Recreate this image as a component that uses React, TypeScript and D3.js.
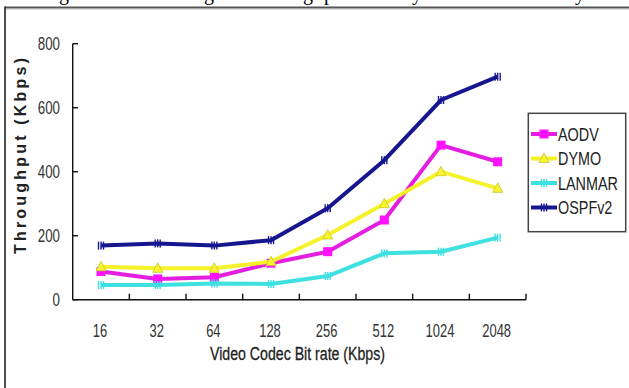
import React from 'react';
import * as d3 from 'd3';

const categories = ['16', '32', '64', '128', '256', '512', '1024', '2048'];
const aodv = [88, 65, 70, 114, 150, 249, 483, 431];
const dymo = [103, 98, 98, 119, 202, 300, 400, 348];
const lanmar = [46, 46, 51, 49, 74, 145, 150, 194];
const ospfv2 = [169, 176, 169, 186, 286, 436, 624, 697];
const yTicks = [0, 200, 400, 600, 800];
const seriesNames = ['AODV', 'DYMO', 'LANMAR', 'OSPFv2'];
const seriesColors = ['#e41ee0', '#f6f22a', '#3ee0e0', '#16168e'];
const markerColors = ['#ff10ff', '#f8f430', '#3ee0e0', '#16168e'];
const markerKinds = ['square', 'triangle', 'hatch', 'hatch'];
const xTitle = 'Video Codec Bit rate (Kbps)';
const yTitle = 'Throughput (Kbps)';
const captionGlyphs = ['g', 'g', 'g', 'p', 'y', 'y'];

const W = 629;
const H = 388;
const FONT = '"Liberation Sans", Arial, sans-serif';

function Marker({ kind, x, y, color }: { kind: string; x: number; y: number; color: string }) {
  if (kind === 'square') {
    return <rect x={x - 4.5} y={y - 4.5} width={9} height={9} fill={color} />;
  }
  if (kind === 'triangle') {
    const p = d3.path();
    p.moveTo(x, y - 5.5);
    p.lineTo(x + 5, y + 4);
    p.lineTo(x - 5, y + 4);
    p.closePath();
    return <path d={p.toString()} fill={color} stroke={d3.color(color)!.darker(0.6).toString()} strokeWidth={0.8} />;
  }
  return (
    <g stroke={color} strokeWidth={1.4}>
      <line x1={x - 2.5} x2={x - 2.5} y1={y - 4} y2={y + 4} />
      <line x1={x} x2={x} y1={y - 4} y2={y + 4} />
      <line x1={x + 2.5} x2={x + 2.5} y1={y - 4} y2={y + 4} />
    </g>
  );
}

export default function App() {
  const series = [aodv, dymo, lanmar, ospfv2];
  const x = d3.scaleBand<string>().domain(categories).range([72.7, 526]).padding(0);
  const y = d3.scaleLinear().domain([0, 800]).range([299.7, 43.7]);
  const cx = (c: string) => (x(c) ?? 0) + x.bandwidth() / 2;
  const line = d3
    .line<number>()
    .x((_, i) => cx(categories[i]))
    .y((d) => y(d))
    .curve(d3.curveLinear);

  const boundaries = categories.map((c) => (x(c) ?? 0) + x.bandwidth());
  const glyphX = [59, 204, 303, 324, 412, 575];

  const legendX = 528.3;
  const legendY = 113.3;
  const legendRowY = (i: number) => 134 + i * 24.5;

  return (
    <svg
      width={W}
      height={H}
      style={{ position: 'absolute', left: 0, top: 0, background: '#fff' }}
      fontFamily={FONT}
    >
      <rect x={0} y={0} width={W} height={H} fill="#fff" />
      {/* descenders of the cropped caption line above the figure */}
      {captionGlyphs.map((g, i) => (
        <text key={i} x={glyphX[i]} y={-0.5} fontFamily='"Liberation Serif", "Times New Roman", serif' fontSize={20} fill="#000">
          {g}
        </text>
      ))}
      {/* page frame */}
      <line x1={5} x2={W} y1={7.5} y2={7.5} stroke="#555" strokeWidth={2} />
      <line x1={5} x2={W} y1={9.5} y2={9.5} stroke="#ddd" strokeWidth={1} />
      <line x1={5} x2={5} y1={6.5} y2={H} stroke="#222" strokeWidth={1.6} />

      {/* y axis */}
      <line x1={72.7} x2={72.7} y1={y(800)} y2={y(0)} stroke="#111" strokeWidth={1.4} />
      {yTicks.map((t) => (
        <g key={t}>
          <line x1={72.7} x2={78} y1={y(t)} y2={y(t)} stroke="#111" strokeWidth={1.4} />
          <text
            transform={`translate(60,${y(t) + 6.3}) scale(0.74,1)`}
            textAnchor="end"
            fontSize={18}
            fill="#333"
          >
            {t}
          </text>
        </g>
      ))}
      {/* x axis */}
      <line x1={72.7} x2={526} y1={y(0)} y2={y(0)} stroke="#111" strokeWidth={1.4} />
      {boundaries.map((b, i) => (
        <line key={i} x1={b} x2={b} y1={y(0)} y2={y(0) - 6} stroke="#111" strokeWidth={1.4} />
      ))}
      {categories.map((c) => (
        <text
          key={c}
          transform={`translate(${cx(c) - 1},337) scale(0.72,1)`}
          textAnchor="middle"
          fontSize={18}
          fill="#333"
        >
          {c}
        </text>
      ))}
      <text
        x={297.5}
        y={360}
        textAnchor="middle"
        fontSize={18}
        fill="#222"
        stroke="#222"
        strokeWidth={0.3}
        textLength={175}
        lengthAdjust="spacingAndGlyphs"
      >
        {xTitle}
      </text>
      <text
        transform="translate(25.5,156) rotate(-90)"
        textAnchor="middle"
        fontSize={16}
        fontWeight="bold"
        fill="#222"
        textLength={196}
        lengthAdjust="spacing"
      >
        {yTitle}
      </text>

      {/* series */}
      {series.map((s, si) => (
        <g key={seriesNames[si]}>
          <path
            d={line(s) ?? ''}
            fill="none"
            stroke={seriesColors[si]}
            strokeWidth={4}
            strokeLinejoin="round"
          />
          {s.map((v, i) => (
            <Marker key={i} kind={markerKinds[si]} x={cx(categories[i])} y={y(v)} color={markerColors[si]} />
          ))}
        </g>
      ))}

      {/* legend */}
      <rect
        x={legendX}
        y={legendY}
        width={97.4}
        height={118.4}
        fill="#fff"
        stroke="#444"
        strokeWidth={1.5}
      />
      {seriesNames.map((n, i) => (
        <g key={n}>
          <line x1={531} x2={557} y1={legendRowY(i)} y2={legendRowY(i)} stroke={seriesColors[i]} strokeWidth={4} />
          <Marker kind={markerKinds[i]} x={544} y={legendRowY(i)} color={markerColors[i]} />
          <text
            transform={`translate(558,${legendRowY(i) + 6.5}) scale(0.8,1)`}
            fontSize={18}
            fill="#222"
          >
            {n}
          </text>
        </g>
      ))}
    </svg>
  );
}
